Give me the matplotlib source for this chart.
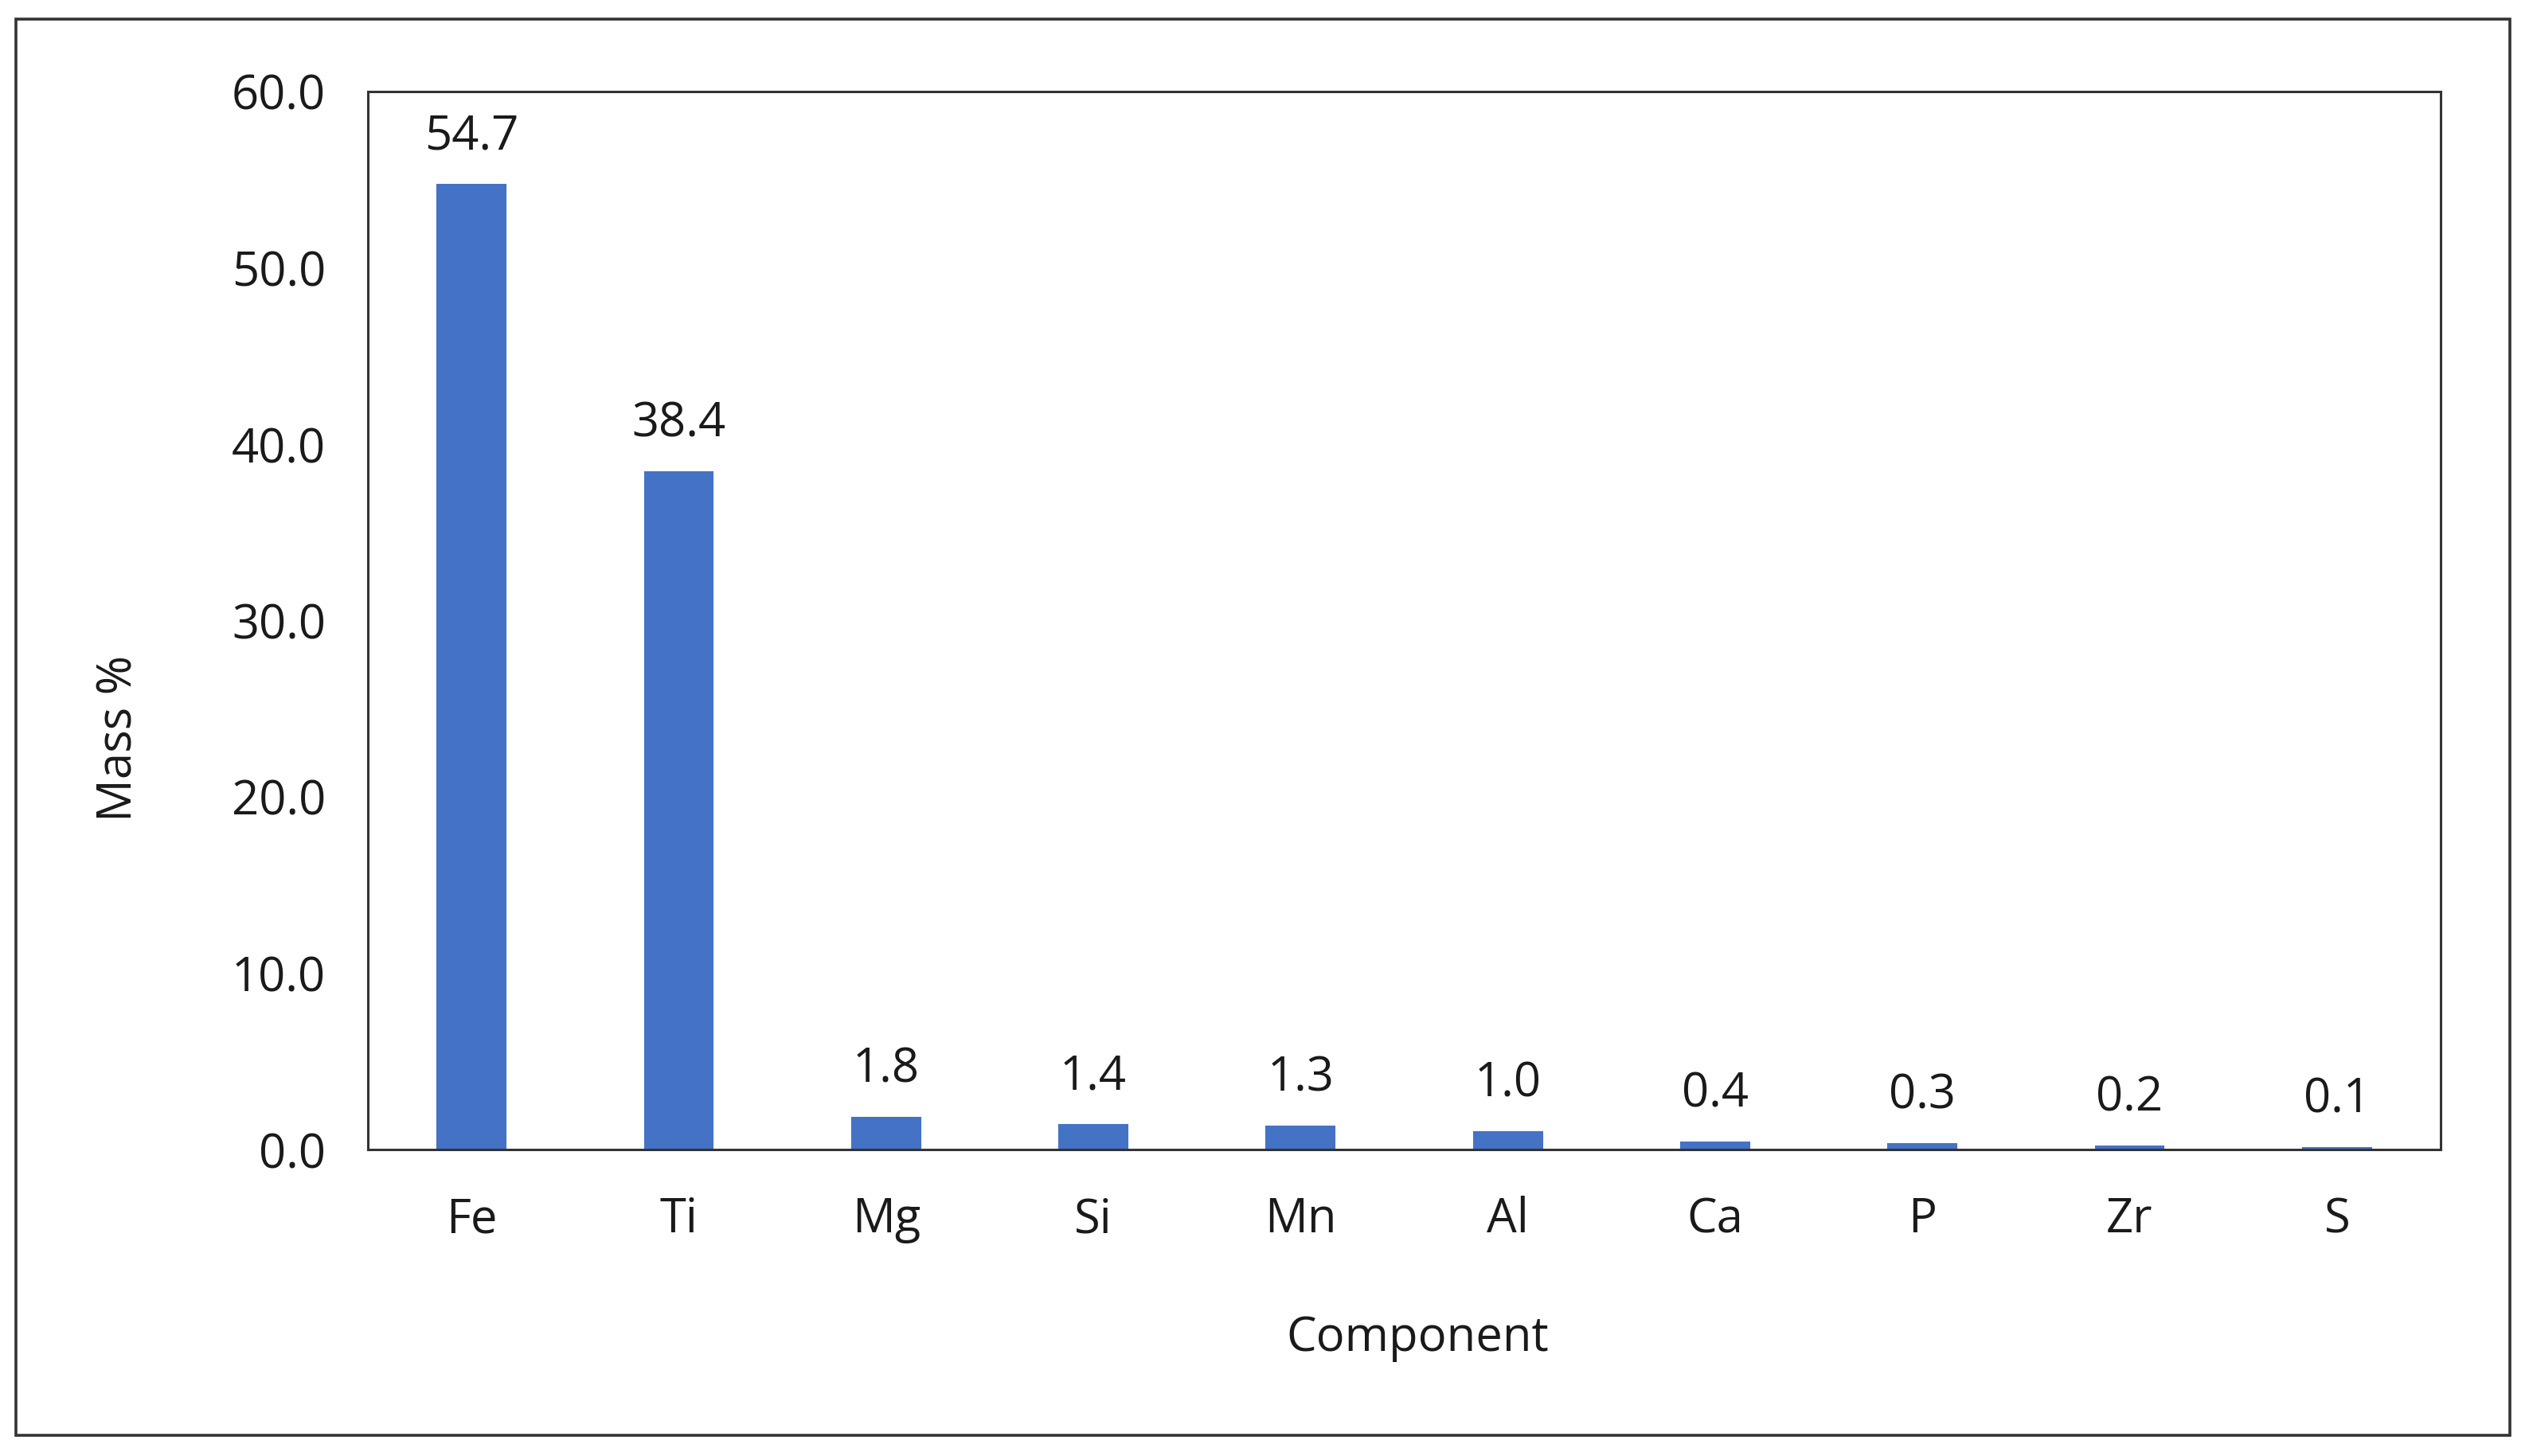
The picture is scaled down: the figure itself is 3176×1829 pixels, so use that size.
import matplotlib
matplotlib.use("Agg")
import matplotlib.pyplot as plt
from matplotlib.patches import Rectangle

# Data
components = ["Fe", "Ti", "Mg", "Si", "Mn", "Al", "Ca", "P", "Zr", "S"]
mass_pct = [54.7, 38.4, 1.8, 1.4, 1.3, 1.0, 0.4, 0.3, 0.2, 0.1]
y_ticks = [0, 10, 20, 30, 40, 50, 60]

plt.rcParams['font.family'] = ['Open Sans', 'DejaVu Sans']

W, H = 3176, 1829
fig = plt.figure(figsize=(W / 100, H / 100), dpi=100)

# Outer chart frame
fig.patches.append(Rectangle((20 / W, 1 - 1803 / H), (3152 - 20) / W, (1803 - 24) / H,
                             transform=fig.transFigure, fill=False,
                             edgecolor='#333333', linewidth=2.6))

# Plot area
left, right, top, bottom = 462, 3065, 115, 1444
ax = fig.add_axes([left / W, 1 - bottom / H, (right - left) / W, (bottom - top) / H])

bars = ax.bar(components, mass_pct, width=0.33, color='#4472C4',
              edgecolor='#4472C4', linewidth=1.5)
ax.set_ylim(0, 60)
ax.set_xlim(-0.5, len(components) - 0.5)
ax.set_yticks(y_ticks)
ax.set_yticklabels([f"{v:.1f}" for v in y_ticks])
ax.tick_params(axis='both', length=0, labelsize=43, colors='#1a1a1a')
ax.tick_params(axis='y', pad=38)
ax.tick_params(axis='x', pad=42)
for s in ax.spines.values():
    s.set_linewidth(2.2)
    s.set_color('#333333')

# Value labels above the bars
for bar, v in zip(bars, mass_pct):
    ax.annotate(f"{v:.1f}", (bar.get_x() + bar.get_width() / 2, bar.get_height()),
                xytext=(0, 22), textcoords='offset points',
                ha='center', va='bottom', fontsize=43, color='#1a1a1a')

fig.text(150 / W, 1 - 928 / H, "Mass %", rotation=90, ha='center', va='center',
         fontsize=43, color='#1a1a1a')
fig.text(1780 / W, 1 - 1681 / H, "Component", ha='center', va='center',
         fontsize=43, color='#1a1a1a')

fig.savefig("out.png", dpi=100)
